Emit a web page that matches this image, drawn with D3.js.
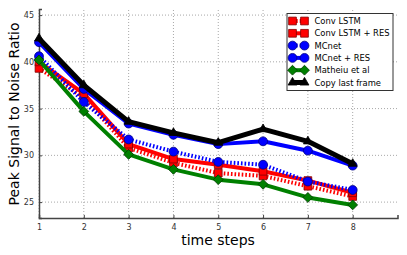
<!DOCTYPE html>
<html>
<head>
<meta charset="utf-8">
<script src="https://cdn.jsdelivr.net/npm/d3@7"></script>
<style>
  body { margin: 0; background: #fff; }
  text { font-family: "DejaVu Sans", sans-serif; }
</style>
</head>
<body>
<svg width="407" height="255"></svg>
<script>
// values
var steps = [1, 2, 3, 4, 5, 6, 7, 8];
var xTicks = [1, 2, 3, 4, 5, 6, 7, 8];
var yTicks = [25, 30, 35, 40, 45];

var convLstm = [39.3, 36.2, 30.8, 29.2, 28.1, 27.8, 26.7, 25.6];
var convLstmRes = [40.0, 36.6, 31.2, 29.6, 29.0, 28.3, 27.3, 26.0];
var mcnet = [40.6, 35.7, 31.7, 30.4, 29.3, 29.0, 27.2, 26.3];
var mcnetRes = [42.1, 37.1, 33.4, 32.2, 31.2, 31.5, 30.5, 28.9];
var matheiu = [40.2, 34.7, 30.1, 28.5, 27.4, 26.9, 25.5, 24.7];
var copyLast = [42.5, 37.5, 33.6, 32.4, 31.35, 32.8, 31.5, 29.1];

var seriesNames = ["Conv LSTM", "Conv LSTM + RES", "MCnet", "MCnet + RES", "Matheiu et al", "Copy last frame"];

var series = [
  { name: seriesNames[0], values: convLstm, color: "#ff0000", edge: "#7f0000", dash: "1.6,2", width: 4, marker: "square" },
  { name: seriesNames[1], values: convLstmRes, color: "#ff0000", edge: "#7f0000", dash: null, width: 4, marker: "square" },
  { name: seriesNames[2], values: mcnet, color: "#0000ff", edge: "#00007f", dash: "1.6,2", width: 4, marker: "circle" },
  { name: seriesNames[3], values: mcnetRes, color: "#0000ff", edge: "#00007f", dash: null, width: 4, marker: "circle" },
  { name: seriesNames[4], values: matheiu, color: "#008000", edge: "#003f00", dash: null, width: 4, marker: "diamond" },
  { name: seriesNames[5], values: copyLast, color: "#000000", edge: "#000000", dash: null, width: 5, marker: "triangle" }
];

var svg = d3.select("svg");

var x = d3.scaleLinear().domain([1, 9]).range([39, 397.5]);
var y = d3.scaleLinear().domain([23.3, 45.65]).range([218, 9]);

// grid
var grid = svg.append("g");
grid.selectAll(".gx")
  .data(xTicks)
  .enter()
  .append("line")
  .attr("x1", function (d) { return x(d); })
  .attr("x2", function (d) { return x(d); })
  .attr("y1", y.range()[0])
  .attr("y2", y.range()[1])
  .attr("stroke", "#a8a8a8")
  .attr("stroke-width", 1)
  .attr("stroke-dasharray", "1,2");
grid.selectAll(".gy")
  .data(yTicks)
  .enter()
  .append("line")
  .attr("x1", x.range()[0])
  .attr("x2", x.range()[1])
  .attr("y1", function (d) { return y(d); })
  .attr("y2", function (d) { return y(d); })
  .attr("stroke", "#a8a8a8")
  .attr("stroke-width", 1)
  .attr("stroke-dasharray", "1,2");

// axes (ticks point inward, like the reference)
var xAxis = svg.append("g")
  .attr("transform", "translate(0," + y.range()[0] + ")")
  .call(d3.axisBottom(x).tickValues(xTicks).tickSize(-3).tickPadding(6).tickFormat(d3.format("d")));
var yAxis = svg.append("g")
  .attr("transform", "translate(" + x.range()[0] + ",0)")
  .call(d3.axisLeft(y).tickValues(yTicks).tickSize(-3).tickPadding(5).tickFormat(d3.format("d")));

[xAxis, yAxis].forEach(function (a) {
  a.select(".domain").attr("stroke", "#444").attr("stroke-width", 1.5);
  a.selectAll(".tick line").attr("stroke", "#444");
  a.selectAll(".tick text").attr("font-size", 8).attr("fill", "#333")
    .attr("font-family", "DejaVu Sans, sans-serif");
});

// marker drawing
function markerPath(kind) {
  if (kind === "square") return d3.symbol().type(d3.symbolSquare).size(60)();
  if (kind === "circle") return d3.symbol().type(d3.symbolCircle).size(62)();
  if (kind === "diamond") return d3.symbol().type(d3.symbolSquare).size(48)();
  return d3.symbol().type(d3.symbolTriangle).size(34)();
}
function markerRot(kind) {
  return kind === "diamond" ? " rotate(45)" : "";
}

var line = d3.line()
  .x(function (d, i) { return x(steps[i]); })
  .y(function (d) { return y(d); });

var plot = svg.append("g");

series.forEach(function (s) {
  plot.append("path")
    .datum(s.values)
    .attr("d", line)
    .attr("fill", "none")
    .attr("stroke", s.color)
    .attr("stroke-width", s.width)
    .attr("stroke-linejoin", "round")
    .attr("stroke-dasharray", s.dash);

  plot.selectAll(".m" + s.marker + s.name.length)
    .data(s.values)
    .enter()
    .append("path")
    .attr("d", markerPath(s.marker))
    .attr("transform", function (d, i) {
      return "translate(" + x(steps[i]) + "," + y(d) + ")" + markerRot(s.marker);
    })
    .attr("fill", s.color)
    .attr("stroke", s.edge)
    .attr("stroke-width", 0.8);
});

// axis labels
svg.append("text")
  .attr("x", 218)
  .attr("y", 245)
  .attr("text-anchor", "middle")
  .attr("font-size", 14)
  .text("time steps");

svg.append("text")
  .attr("transform", "translate(19,114) rotate(-90)")
  .attr("text-anchor", "middle")
  .attr("font-size", 14)
  .text("Peak Signal to Noise Ratio");

// legend
var legend = svg.append("g").attr("transform", "translate(287,13.5)");
legend.append("rect")
  .attr("width", 106)
  .attr("height", 77)
  .attr("fill", "#fff")
  .attr("stroke", "#333")
  .attr("stroke-width", 1);

var rows = legend.selectAll(".row")
  .data(series)
  .enter()
  .append("g")
  .attr("transform", function (d, i) { return "translate(0," + (7.5 + i * 12.3) + ")"; });

rows.append("line")
  .attr("x1", 5.5)
  .attr("x2", 17.5)
  .attr("stroke", function (d) { return d.color; })
  .attr("stroke-width", function (d) { return d.width; })
  .attr("stroke-dasharray", function (d) { return d.dash; });

rows.each(function (d) {
  var r = d3.select(this);
  [5.5, 17.5].forEach(function (cx) {
    r.append("path")
      .attr("d", markerPath(d.marker))
      .attr("transform", "translate(" + cx + ",0)" + markerRot(d.marker))
      .attr("fill", d.color)
      .attr("stroke", d.edge)
      .attr("stroke-width", 0.8);
  });
});

rows.append("text")
  .attr("x", 27.5)
  .attr("y", 3)
  .attr("font-size", 8.4)
  .text(function (d) { return d.name; });
</script>
</body>
</html>
